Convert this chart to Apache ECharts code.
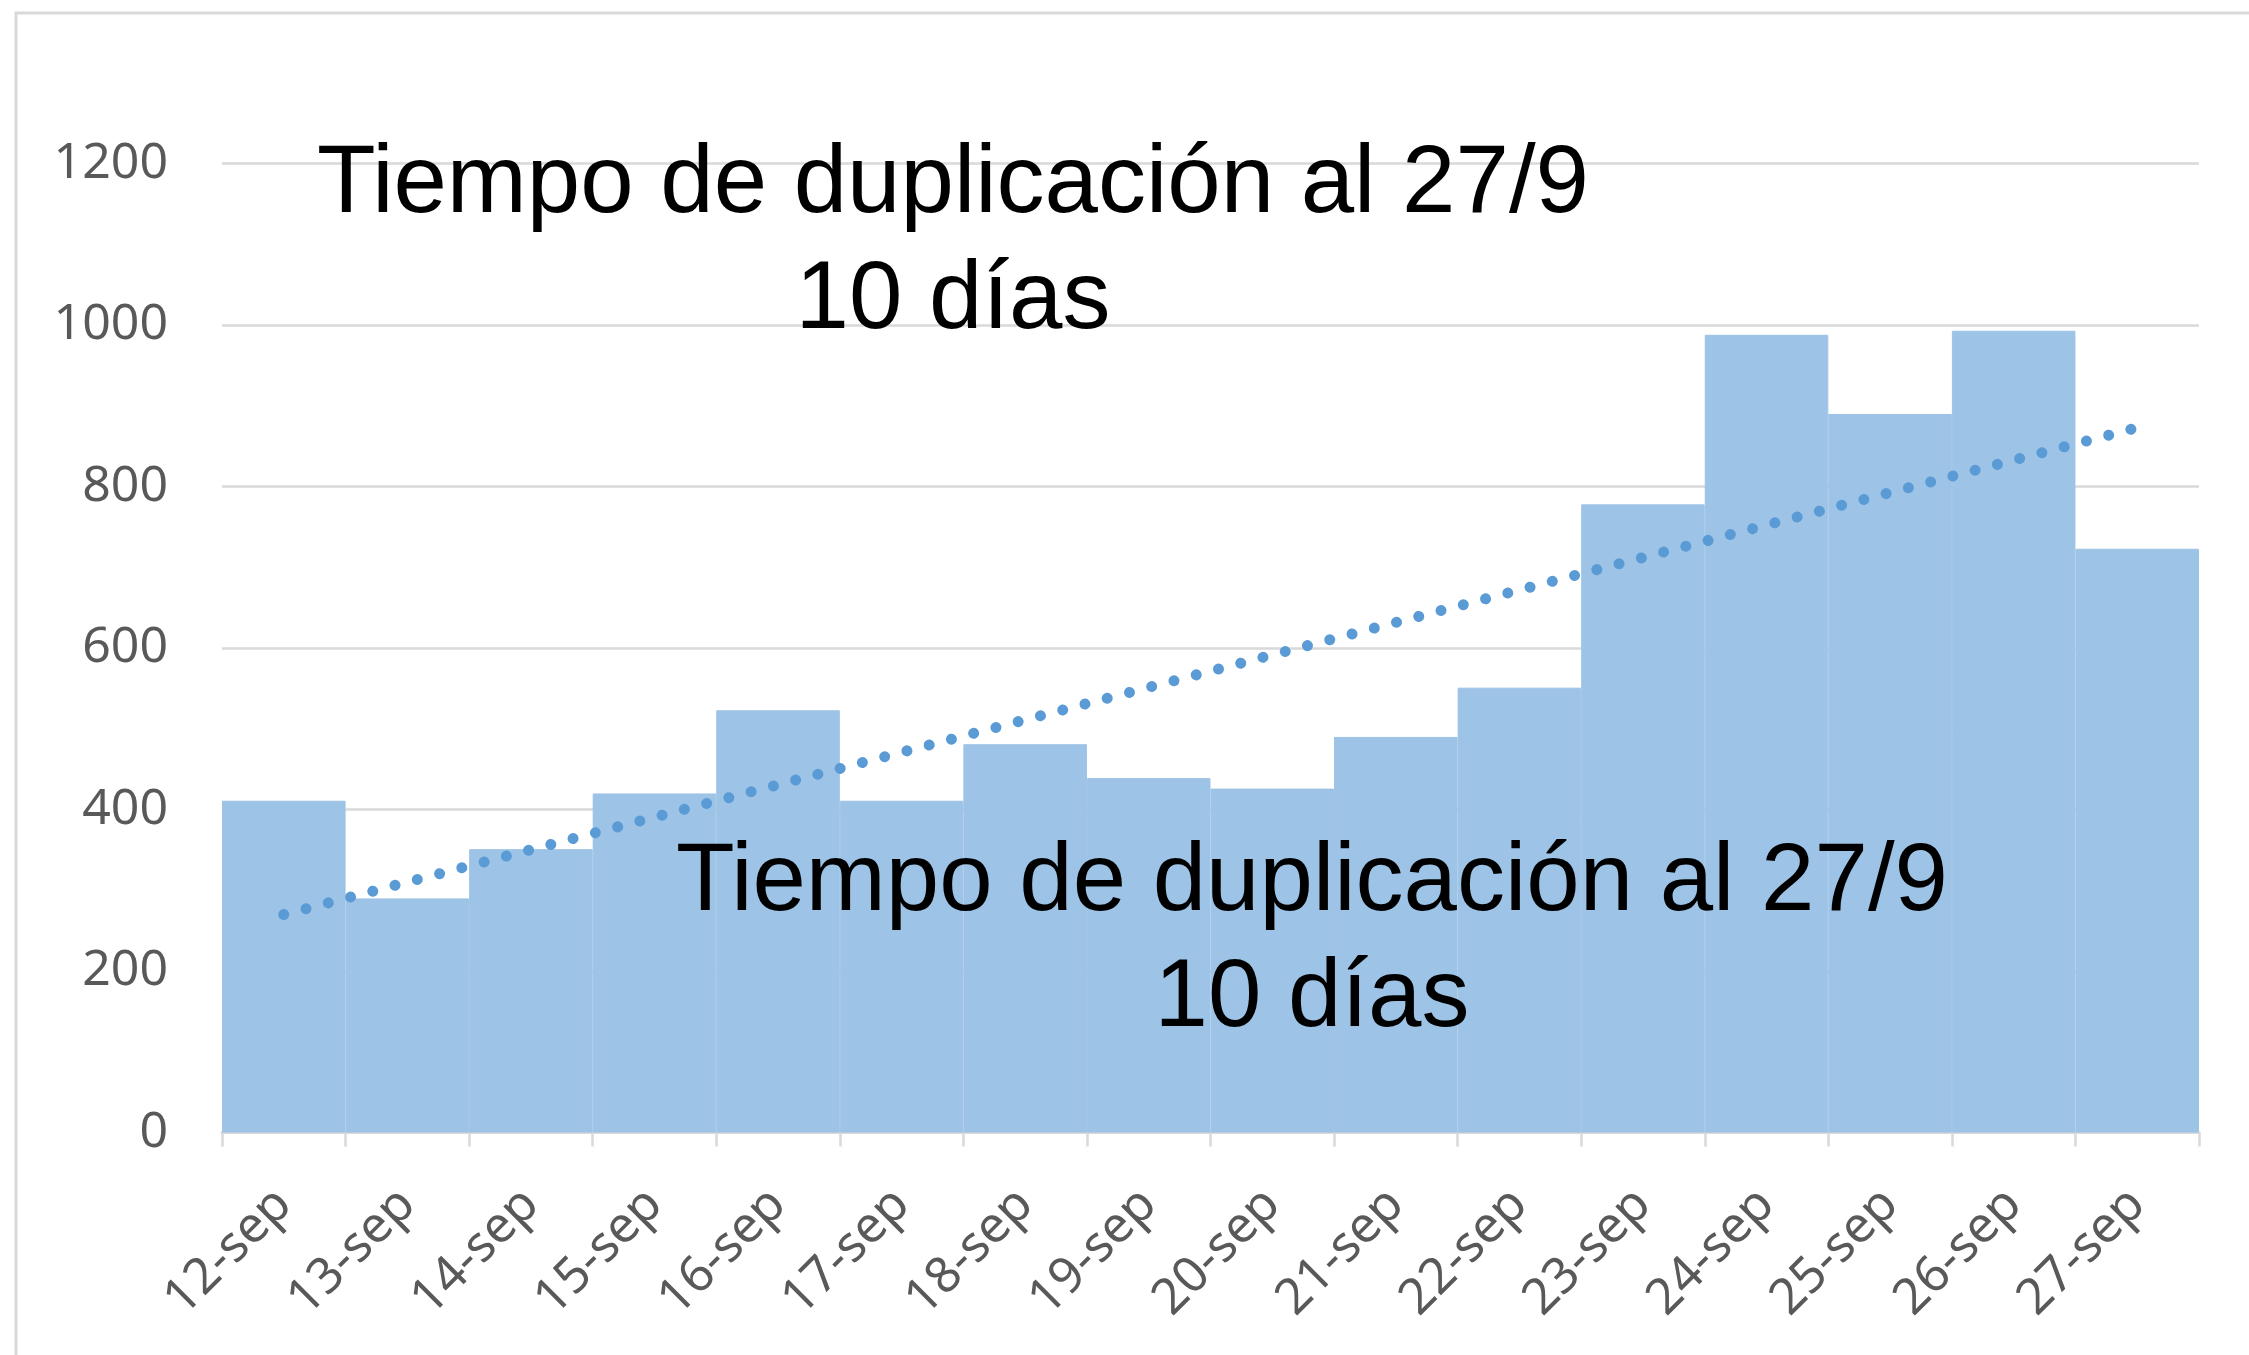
<!DOCTYPE html>
<html>
<head>
<meta charset="utf-8">
<title>Tiempo de duplicación</title>
<script src="https://cdn.jsdelivr.net/npm/echarts@6/dist/echarts.min.js"></script>
<style>
  html, body { margin: 0; padding: 0; background: #fff; }
  #chart { width: 2249px; height: 1355px; }
</style>
</head>
<body>
<div id="chart"></div>
<script>
// data
var dates = ['12-sep', '13-sep', '14-sep', '15-sep', '16-sep', '17-sep', '18-sep', '19-sep',
             '20-sep', '21-sep', '22-sep', '23-sep', '24-sep', '25-sep', '26-sep', '27-sep'];
var casos = [411, 290, 351, 420, 523, 411, 481, 439, 426, 490, 551, 778, 988, 890, 993, 723];
// linear trendline, value at first and last day
var trendEnds = [270, 873];
var yTicks = [0, 1200, 200]; // min, max, interval

var leyenda = 'Tiempo de duplicación al 27/9\n10 días';

var chart = echarts.init(document.getElementById('chart'));

var option = {
  backgroundColor: '#ffffff',
  animation: false,
  grid: { left: 222, right: 50, top: 163.6, bottom: 222.4 },
  xAxis: {
    type: 'category',
    data: dates,
    boundaryGap: true,
    axisLine: { lineStyle: { color: '#D9D9D9', width: 3 } },
    axisTick: { show: true, length: 14, lineStyle: { color: '#D9D9D9', width: 2.5 } },
    axisLabel: {
      rotate: 45,
      margin: 64,
      color: '#595959',
      fontFamily: 'Noto Sans',
      fontSize: 50,
      interval: 0
    }
  },
  yAxis: {
    type: 'value',
    min: yTicks[0],
    max: yTicks[1],
    interval: yTicks[2],
    axisLine: { show: false },
    axisTick: { show: false },
    splitLine: { lineStyle: { color: '#D9D9D9', width: 2.5 } },
    axisLabel: {
      margin: 54,
      color: '#595959',
      fontFamily: 'Noto Sans',
      fontSize: 50,
      formatter: function (v) { return String(v); }
    }
  },
  series: [
    {
      type: 'bar',
      data: casos,
      barCategoryGap: '0%',
      itemStyle: { color: '#9DC3E6', borderColor: '#9DC3E6', borderWidth: 1 }
    },
    {
      type: 'line',
      data: [[dates[0], trendEnds[0]], [dates[dates.length - 1], trendEnds[1]]],
      symbol: 'none',
      lineStyle: { color: '#5B9BD5', width: 11, type: [0.01, 23], cap: 'round' },
      z: 3
    }
  ],
  graphic: [
    {
      type: 'rect',
      shape: { x: 16, y: 13, width: 2300, height: 1400 },
      style: { fill: 'none', stroke: '#D9D9D9', lineWidth: 3 },
      z: -1
    },
    {
      type: 'text',
      x: 953,
      y: 244,
      style: {
        text: leyenda,
        fill: '#000',
        font: '96px "Liberation Sans"',
        lineHeight: 116,
        textAlign: 'center',
        textVerticalAlign: 'middle'
      },
      z: 10
    },
    {
      type: 'text',
      x: 1312,
      y: 942,
      style: {
        text: leyenda,
        fill: '#000',
        font: '96px "Liberation Sans"',
        lineHeight: 116,
        textAlign: 'center',
        textVerticalAlign: 'middle'
      },
      z: 10
    }
  ]
};

chart.setOption(option);
</script>
</body>
</html>
